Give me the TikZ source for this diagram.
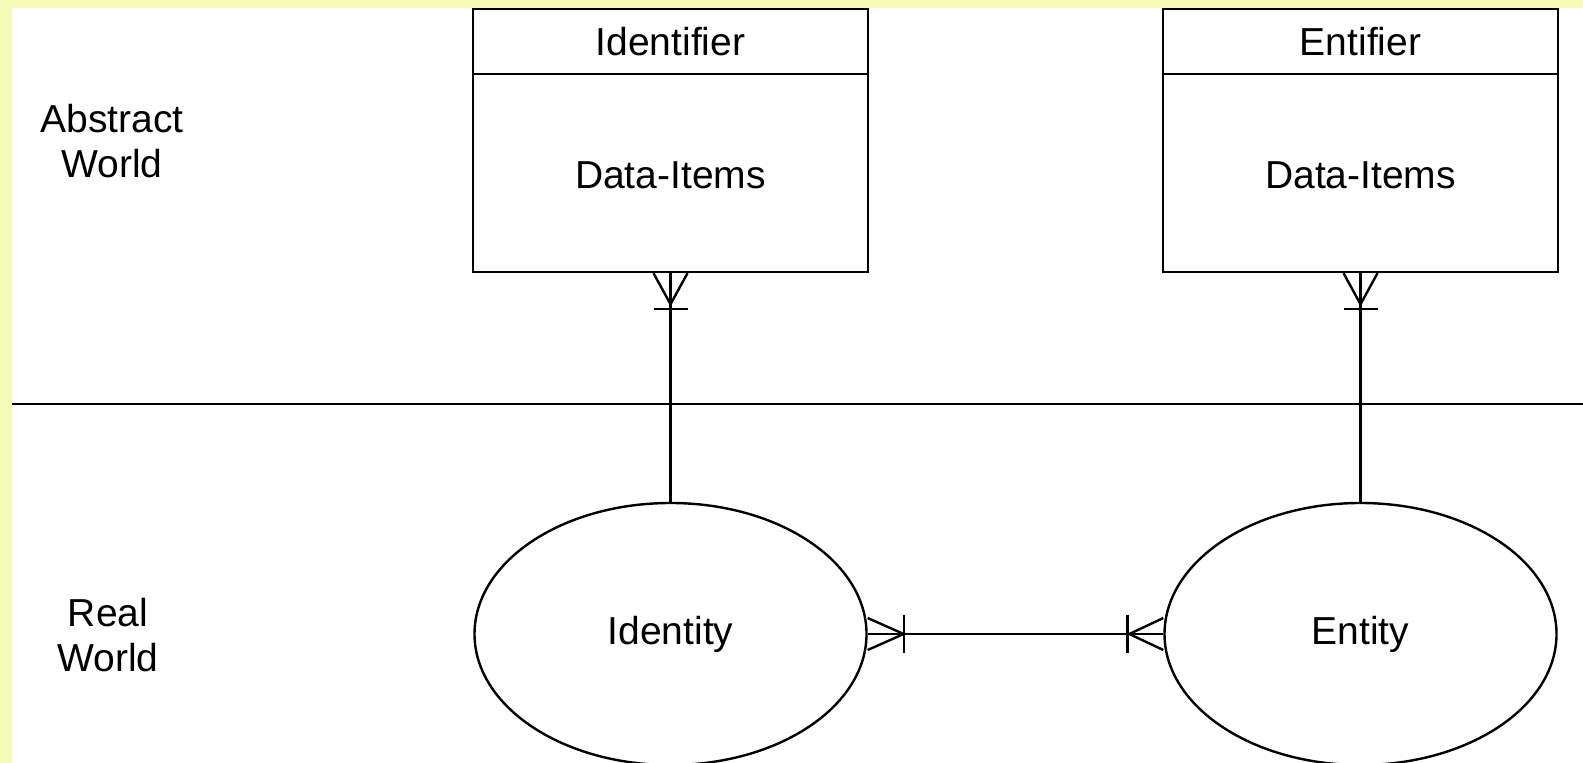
\documentclass[tikz,border=0pt]{standalone}
\usepackage{fontspec}
\setmainfont{Liberation Sans}
\usetikzlibrary{shapes.geometric}
\definecolor{paper}{RGB}{243,250,182}

\begin{document}
\begin{tikzpicture}[x=0.5pt,y=-0.5pt,
    every node/.style={font=\fontsize{19.5}{22.5}\selectfont},
    lw/.style={line width=1.2pt},
    box/.style={draw,lw,minimum width=197.5pt,minimum height=131.5pt,inner sep=0pt},
    blob/.style={draw,lw,ellipse,minimum width=196pt,minimum height=131pt,inner sep=0pt}]

        \useasboundingbox (0,0) rectangle (1583,763);
        \fill[paper] (0,0) rectangle (1583,763);
        \fill[white] (12,8) rectangle (1583,763);

        % the two worlds
        \draw[lw] (12,404) -- (1583,404);
        \node[align=center] (abs) at (112,141) {Abstract\\World};
        \node[align=center] (real) at (108,635) {Real\\World};

        \node[box] (idr) at (670.5,140.5) {};
        \node[box] (enr) at (1360.5,140.5) {};
        \foreach \n in {idr,enr} \draw[lw] (\n.north west) ++(0,66) -- ++(395,0);
        \node (idrt) at (670.5,42) {Identifier};
        \node (idrd) at (670.5,175) {Data-Items};
        \node (enrt) at (1360.5,42) {Entifier};
        \node (enrd) at (1360.5,175) {Data-Items};

        \node[blob] (idy) at (670.5,634) {Identity};
        \node[blob] (ent) at (1360.5,634) {Entity};

        % links with crow's feet
        \foreach \a/\b in {idr/idy,enr/ent} {
            \draw[lw] (\a.south) -- (\b.north);
            \draw[lw] (\a.south) ++(-17,0) -- ++(17,31) -- ++(17,-31);
            \draw[lw] (\a.south) ++(-17,36) -- ++(34,0);
        }
        \draw[lw] (idy.east) -- (ent.west);
        \draw[lw] (idy.east) ++(0,-16) -- ++(36,16) -- ++(-36,16);
        \draw[lw] (idy.east) ++(36,-19) -- ++(0,38);
        \draw[lw] (ent.west) ++(0,-16) -- ++(-34,16) -- ++(34,16);
        \draw[lw] (ent.west) ++(-36,-19) -- ++(0,38);

\end{tikzpicture}
\end{document}
